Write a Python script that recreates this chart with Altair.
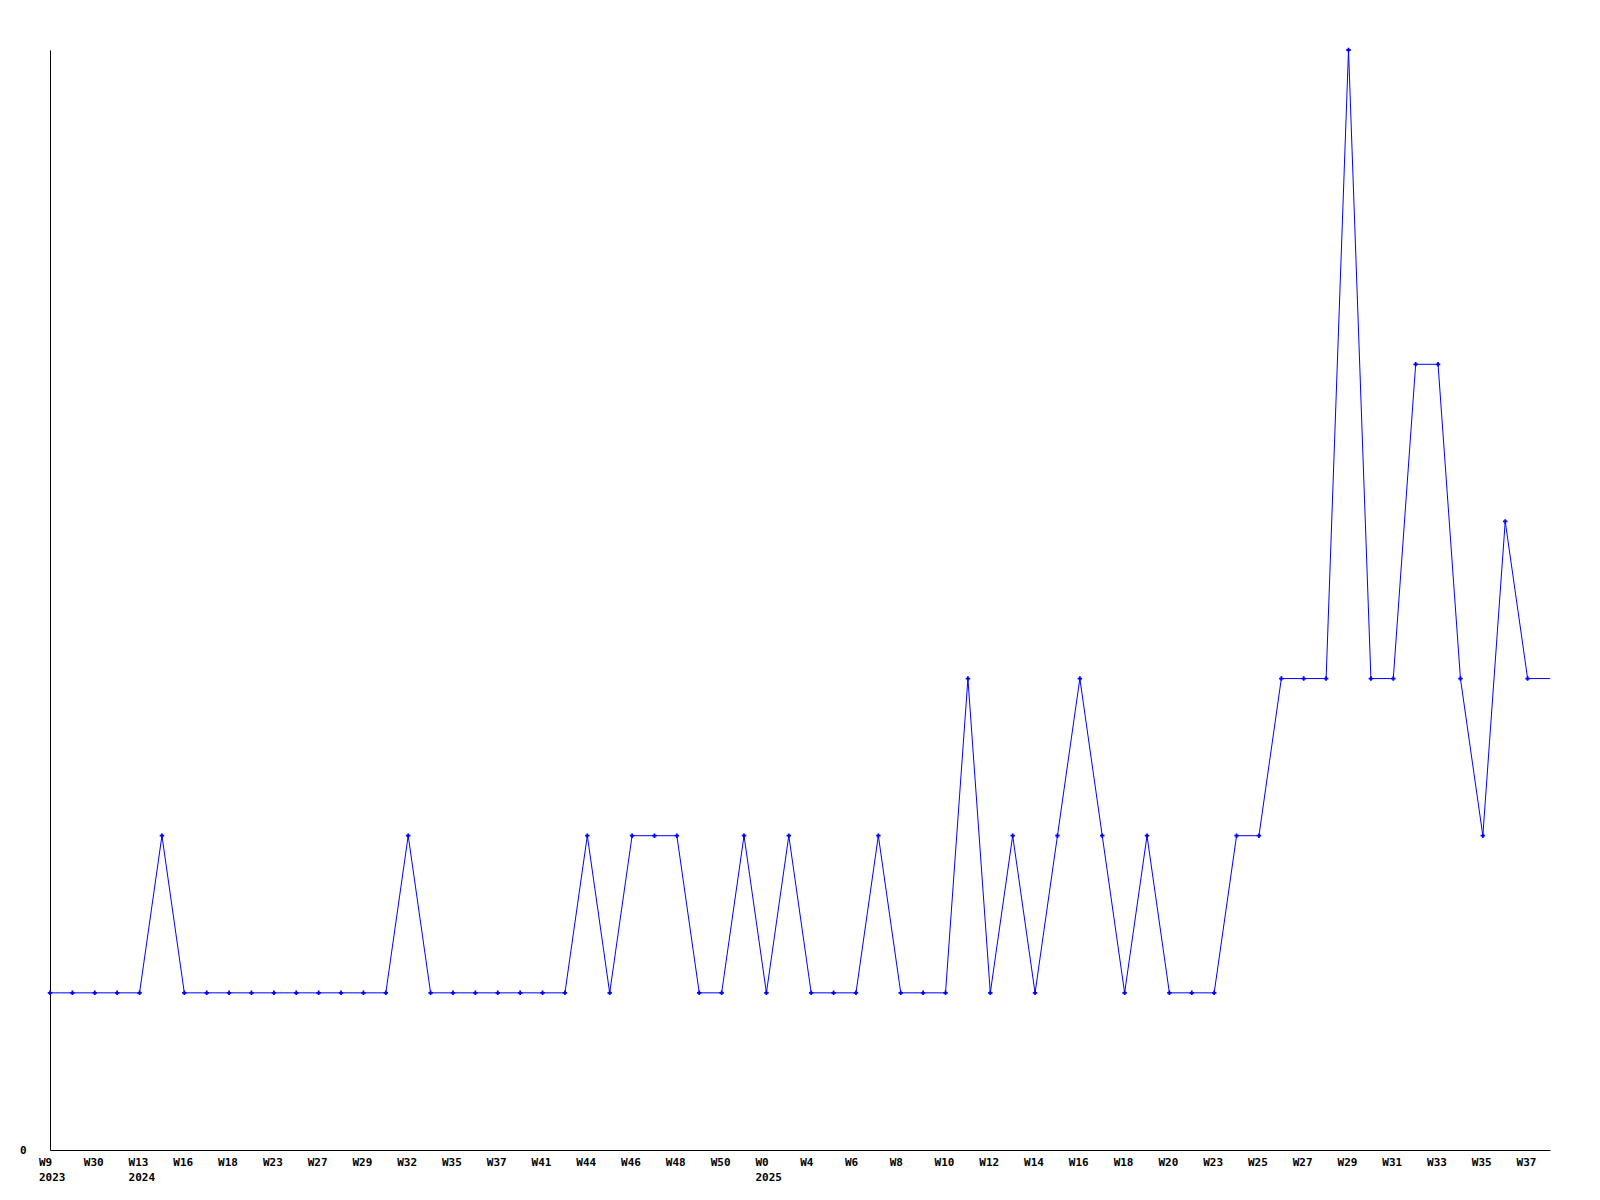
import altair as alt
import pandas as pd

# Weekly values (one per period, left to right)
values = [1, 1, 1, 1, 1, 2, 1, 1, 1, 1, 1, 1, 1, 1, 1, 1,
          2, 1, 1, 1, 1, 1, 1, 1, 2, 1, 2, 2, 2, 1, 1, 2,
          1, 2, 1, 1, 1, 2, 1, 1, 1, 3, 1, 2, 1, 2, 3, 2,
          1, 2, 1, 1, 1, 2, 2, 3, 3, 3, 7, 3, 3, 5, 5, 3,
          2, 4, 3, 3]

# Tick labels, one for every second period
week_labels = ["W9", "W30", "W13", "W16", "W18", "W23", "W27", "W29", "W32",
               "W35", "W37", "W41", "W44", "W46", "W48", "W50", "W0", "W4",
               "W6", "W8", "W10", "W12", "W14", "W16", "W18", "W20", "W23",
               "W25", "W27", "W29", "W31", "W33", "W35", "W37"]

# Year labels under specific week labels (index into week_labels)
year_label_pos = [0, 2, 16]
year_labels = ["2023", "2024", "2025"]

n = len(values)
df = pd.DataFrame({"i": list(range(n)), "v": values})
df_pts = df.iloc[:-1]
df_w = pd.DataFrame({"i": [2 * k for k in range(len(week_labels))], "lab": week_labels})
df_y = pd.DataFrame({"i": [2 * k for k in year_label_pos], "lab": year_labels})

FONT = "DejaVu Sans Mono"
BLUE = "#0000ff"

xscale = alt.Scale(domain=[0, n - 1], nice=False, zero=False)
yscale = alt.Scale(domain=[0, 7], nice=False)

base_x = alt.X("i:Q", scale=xscale,
               axis=alt.Axis(title=None, labels=False, ticks=False, grid=False,
                             domainColor="black", domainWidth=1))

line = alt.Chart(df).mark_line(color=BLUE, strokeWidth=1).encode(
    x=base_x,
    y=alt.Y("v:Q", scale=yscale,
            axis=alt.Axis(title=None, values=[0], format="d", ticks=False, grid=False,
                          labelPadding=24, labelFont=FONT, labelFontSize=11,
                          labelFontWeight="bold", labelColor="black",
                          domainColor="black", domainWidth=1)),
)

pts = alt.Chart(df_pts).mark_point(shape="cross", filled=True, size=20,
                                   color=BLUE, opacity=1).encode(
    x=alt.X("i:Q", scale=xscale),
    y=alt.Y("v:Q", scale=yscale),
)

wk = alt.Chart(df_w).mark_text(font=FONT, fontSize=11, fontWeight="bold",
                               align="left", baseline="alphabetic", dx=-11,
                               color="black").encode(
    x=alt.X("i:Q", scale=xscale),
    y=alt.value(1116),
    text="lab:N",
)

yr = alt.Chart(df_y).mark_text(font=FONT, fontSize=11, fontWeight="bold",
                               align="left", baseline="alphabetic", dx=-11,
                               color="black").encode(
    x=alt.X("i:Q", scale=xscale),
    y=alt.value(1131),
    text="lab:N",
)

chart = alt.layer(line, pts, wk, yr).properties(
    width=1500, height=1100,
    background="white",
    autosize=alt.AutoSizeParams(type="none"),
    padding={"left": 42, "top": 42, "right": 42, "bottom": 42},
).configure_view(stroke=None).configure_axis(grid=False)

chart.save("out.html", embed_options={"renderer": "svg", "actions": False})
